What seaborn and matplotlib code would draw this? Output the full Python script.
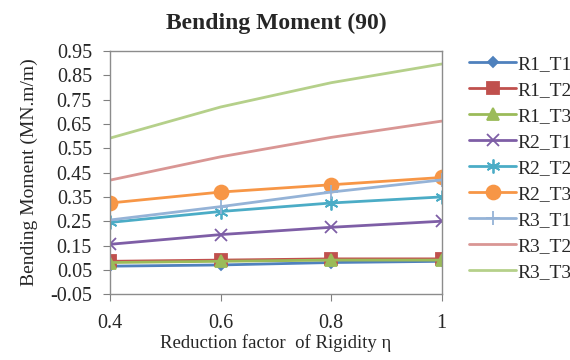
import pandas as pd
import seaborn as sns
import matplotlib.pyplot as plt

# reduction factor of rigidity
eta = [0.4, 0.6, 0.8, 1.0]

# bending moment values (MN.m/m)
series = ['R1_T1', 'R1_T2', 'R1_T3', 'R2_T1', 'R2_T2', 'R2_T3', 'R3_T1', 'R3_T2', 'R3_T3']
r1_t1 = [0.065, 0.070, 0.080, 0.085]
r1_t2 = [0.085, 0.090, 0.095, 0.095]
r1_t3 = [0.080, 0.085, 0.090, 0.090]
r2_t1 = [0.155, 0.195, 0.225, 0.250]
r2_t2 = [0.245, 0.290, 0.325, 0.350]
r2_t3 = [0.325, 0.370, 0.400, 0.430]
r3_t1 = [0.255, 0.310, 0.370, 0.420]
r3_t2 = [0.419, 0.515, 0.595, 0.662]
r3_t3 = [0.592, 0.720, 0.820, 0.897]
values = [r1_t1, r1_t2, r1_t3, r2_t1, r2_t2, r2_t3, r3_t1, r3_t2, r3_t3]

colors = ['#4F81BD', '#C0504D', '#9BBB59', '#7E5EA6', '#4BACC6', '#F79646',
          '#95B3D7', '#D99694', '#B5D08A']
markers = ['D', 's', '^', 'x', (6, 2, 0), 'o', '+', None, None]
msizes = [5, 8, 8, 9, 10, 10, 10, 0, 0]

df = pd.DataFrame({'eta': eta * len(series),
                   'moment': sum(values, []),
                   'series': [s for s in series for _ in eta]})

sns.set_style('white')
plt.rcParams['font.family'] = ['Liberation Serif', 'DejaVu Serif']

fig = plt.figure(figsize=(5.7, 3.6), dpi=100)
ax = fig.add_axes([0.193, 0.183, 0.582, 0.675])

for s, c, m, ms in zip(series, colors, markers, msizes):
    sub = df[df['series'] == s]
    sns.lineplot(x=sub['eta'], y=sub['moment'], ax=ax, color=c, lw=2,
                 marker=m, markersize=ms, markeredgecolor=c, markeredgewidth=1.3,
                 label=s)

ax.set_xlim(0.4, 1.0)
ax.set_ylim(-0.05, 0.95)
ax.set_xticks([0.4, 0.6, 0.8, 1.0])
ax.set_xticklabels(['0.4', '0.6', '0.8', '1'])
ax.set_yticks([-0.05 + 0.1 * i for i in range(11)])
ax.set_yticklabels([f'{-0.05 + 0.1 * i:.2f}' for i in range(11)])
ax.tick_params(axis='both', labelsize=14.5, length=5, direction='out', color='#808080')
ax.tick_params(axis='x', pad=9)
ax.tick_params(axis='y', pad=8)
ax.tick_params(left=True, bottom=True)
for sp in ax.spines.values():
    sp.set_color('#8c8c8c')
    sp.set_linewidth(1)

ax.set_title('Bending Moment (90)', fontsize=17, fontweight='bold', pad=16)
ax.set_xlabel('Reduction factor  of Rigidity η', fontsize=13.5, labelpad=1)
ax.set_ylabel('Bending Moment (MN.m/m)', fontsize=14, labelpad=9)

ax.legend(loc='upper left', bbox_to_anchor=(1.06, 1.015), frameon=False,
          fontsize=14, handlelength=2.4, labelspacing=0.43, handletextpad=0.05,
          borderaxespad=0)

plt.savefig('out.png', dpi=100)
